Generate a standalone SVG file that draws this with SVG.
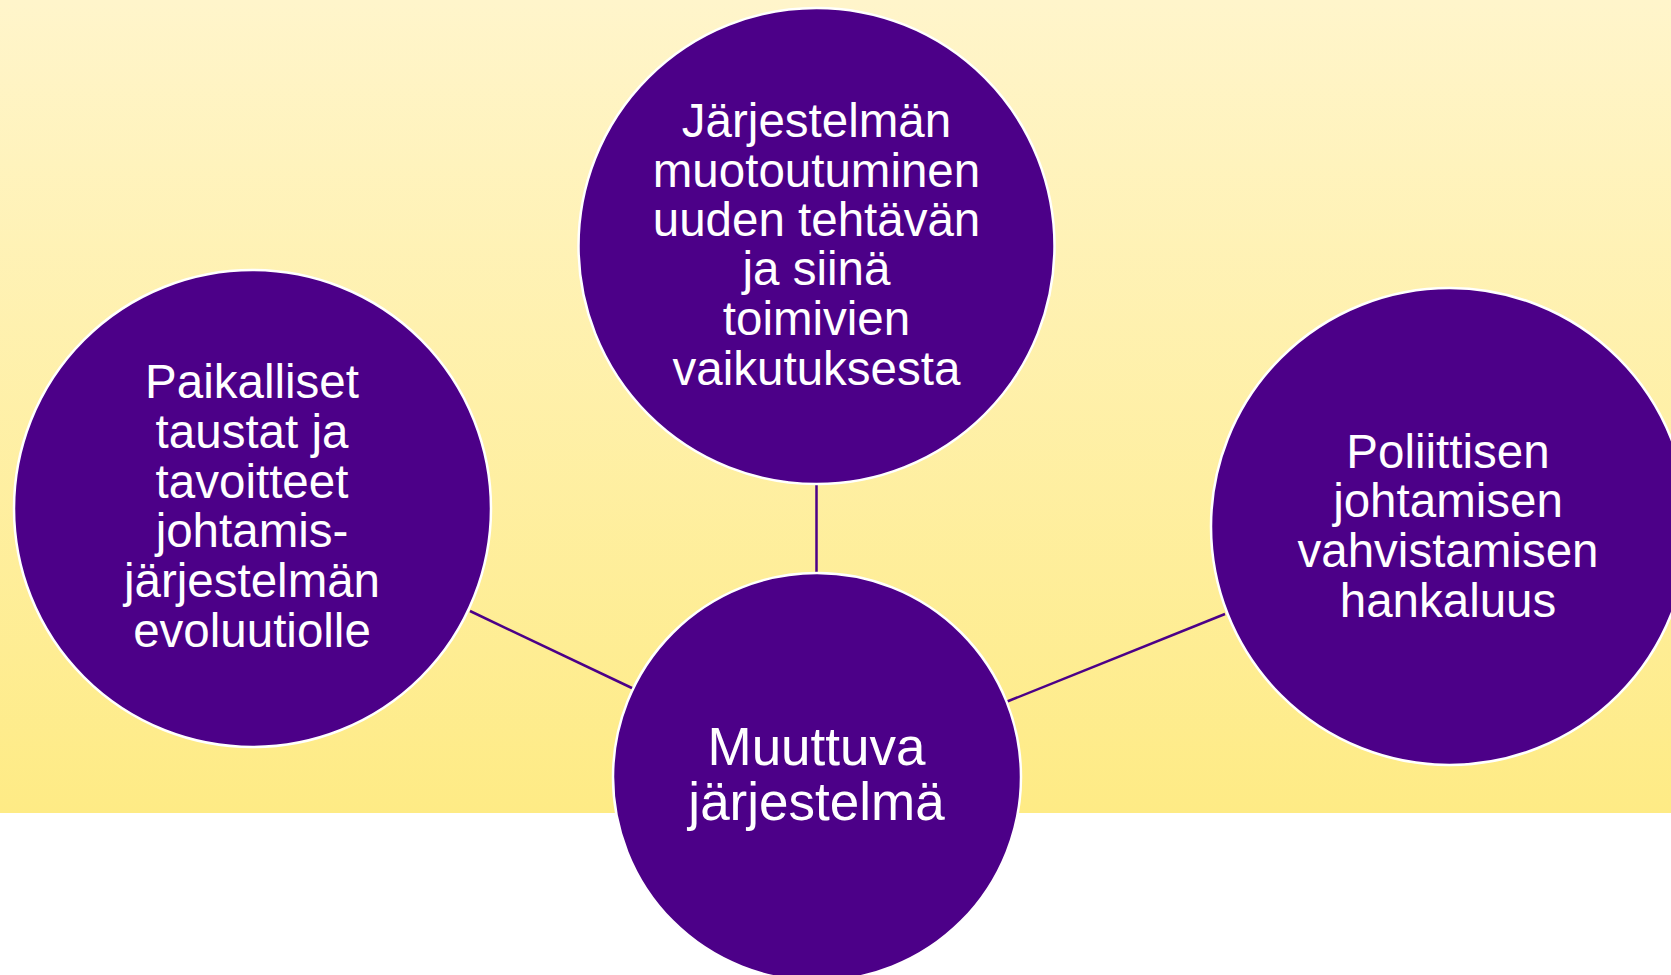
<svg xmlns="http://www.w3.org/2000/svg" width="1671" height="975" viewBox="0 0 1671 975">
<defs>
<linearGradient id="bg" x1="0" y1="0" x2="0" y2="1">
<stop offset="0" stop-color="#FFF5CB"/>
<stop offset="1" stop-color="#FEEB85"/>
</linearGradient>
<style>
.node{fill:#4C0088;stroke:#FFFFFF;stroke-width:2.5}
.lbl{font-family:"Liberation Sans",Arial,sans-serif;fill:#FFFFFF;text-anchor:middle;font-size:47.5px}
.big{font-size:53px}
.conn{stroke:#4C0088;stroke-width:2.5;fill:none}
</style>
</defs>
<rect x="0" y="0" width="1671" height="975" fill="#FFFFFF"/>
<rect x="0" y="0" width="1671" height="813" fill="url(#bg)"/>
<g id="connectors">
<line class="conn" x1="816.5" y1="484" x2="816.5" y2="574"/>
<line class="conn" x1="470" y1="611" x2="634" y2="689"/>
<line class="conn" x1="1006" y1="702" x2="1225" y2="614"/>
</g>
<g id="node-top">
<circle class="node" cx="816.5" cy="246" r="238"/>
<text class="lbl" x="816.5"><tspan x="816.5" y="137">Järjestelmän</tspan><tspan x="816.5" y="187">muotoutuminen</tspan><tspan x="816.5" y="236">uuden tehtävän</tspan><tspan x="816.5" y="285">ja siinä</tspan><tspan x="816.5" y="335">toimivien</tspan><tspan x="816.5" y="385">vaikutuksesta</tspan></text>
</g>
<g id="node-left">
<circle class="node" cx="252.5" cy="508.5" r="238.5"/>
<text class="lbl" x="252"><tspan x="252" y="398">Paikalliset</tspan><tspan x="252" y="448">taustat ja</tspan><tspan x="252" y="498">tavoitteet</tspan><tspan x="252" y="547">johtamis-</tspan><tspan x="252" y="597">järjestelmän</tspan><tspan x="252" y="647">evoluutiolle</tspan></text>
</g>
<g id="node-right">
<circle class="node" cx="1449.5" cy="526.5" r="238.5"/>
<text class="lbl" x="1448"><tspan x="1448" y="468">Poliittisen</tspan><tspan x="1448" y="517">johtamisen</tspan><tspan x="1448" y="567">vahvistamisen</tspan><tspan x="1448" y="617">hankaluus</tspan></text>
</g>
<g id="node-center">
<circle class="node" cx="817" cy="777" r="204"/>
<text class="lbl big" x="816.5"><tspan x="816.5" y="765">Muuttuva</tspan><tspan x="816.5" y="820">järjestelmä</tspan></text>
</g>
</svg>
